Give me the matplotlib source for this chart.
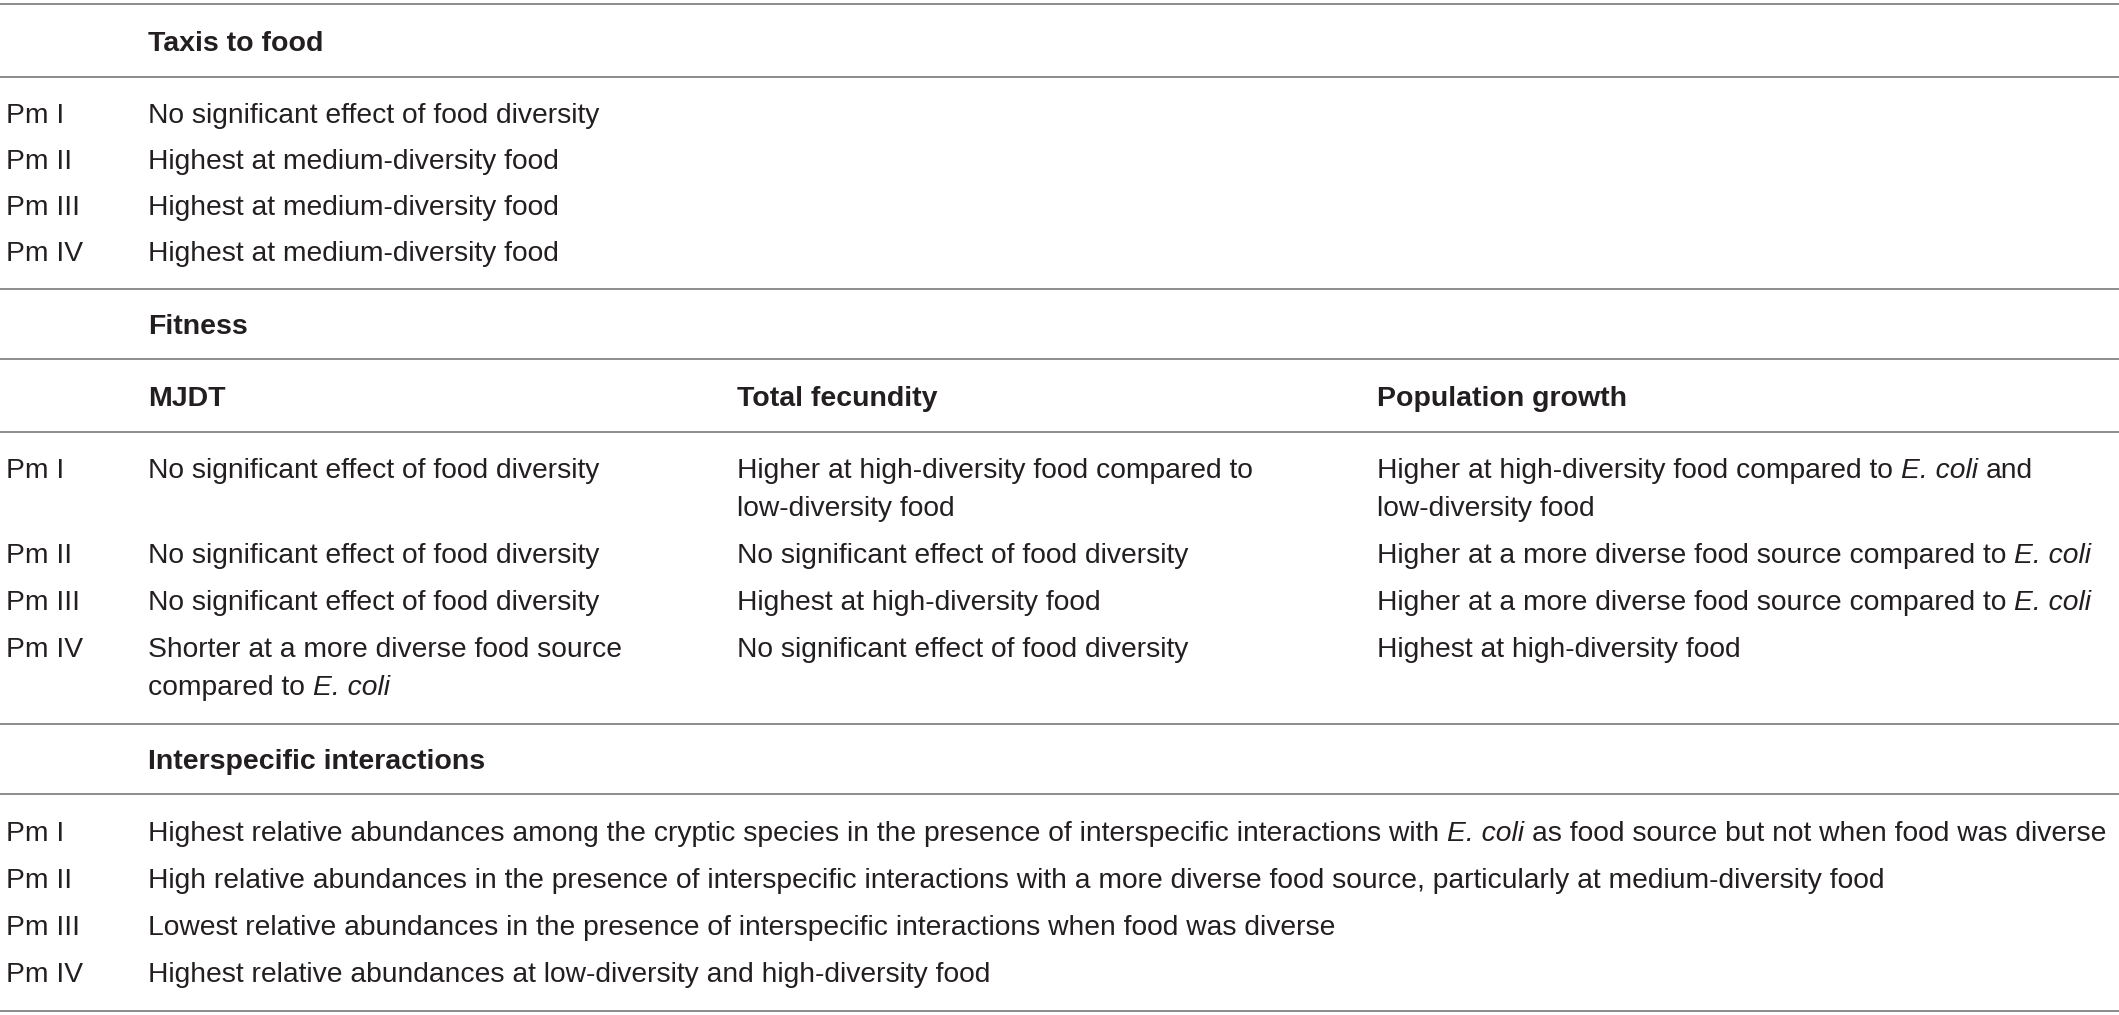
import matplotlib
matplotlib.use("Agg")
import matplotlib.pyplot as plt

plt.rcParams["font.family"] = ["Liberation Sans", "DejaVu Sans"]

# table content; text between * * is set in italics
species = ["Pm I", "Pm II", "Pm III", "Pm IV"]

taxis_title = "Taxis to food"
taxis = ["No significant effect of food diversity",
         "Highest at medium-diversity food",
         "Highest at medium-diversity food",
         "Highest at medium-diversity food"]

fitness_title = "Fitness"
fitness_cols = ["MJDT", "Total fecundity", "Population growth"]
mjdt = [["No significant effect of food diversity"],
        ["No significant effect of food diversity"],
        ["No significant effect of food diversity"],
        ["Shorter at a more diverse food source", "compared to *E. coli*"]]
fecundity = [["Higher at high-diversity food compared to", "low-diversity food"],
             ["No significant effect of food diversity"],
             ["Highest at high-diversity food"],
             ["No significant effect of food diversity"]]
growth = [["Higher at high-diversity food compared to *E. coli* and", "low-diversity food"],
          ["Higher at a more diverse food source compared to *E. coli*"],
          ["Higher at a more diverse food source compared to *E. coli*"],
          ["Highest at high-diversity food"]]

inter_title = "Interspecific interactions"
inter = ["Highest relative abundances among the cryptic species in the presence of interspecific interactions with *E. coli* as food source but not when food was diverse",
         "High relative abundances in the presence of interspecific interactions with a more diverse food source, particularly at medium-diversity food",
         "Lowest relative abundances in the presence of interspecific interactions when food was diverse",
         "Highest relative abundances at low-diversity and high-diversity food"]

W, H = 2119, 1015
fig = plt.figure(figsize=(W / 100, H / 100), dpi=100)
ax = fig.add_axes([0, 0, 1, 1])
ax.set_xlim(0, W)
ax.set_ylim(H, 0)
ax.axis("off")
rend = fig.canvas.get_renderer()

fs = 20.3
fs_bold = 20.5
tc = "#231f20"
x_sp, x_c1, x_c2, x_c3 = 6, 148, 737, 1377
row_gap = 47
wrap_gap = 38
half_cap = 10


def width(s, **kw):
    t = ax.text(0, 0, s, fontsize=fs, **kw)
    w = t.get_window_extent(rend).width
    t.remove()
    return w


space_w = width("a a") - width("aa")


def put(x, y, s, bold=False):
    if bold:
        ax.text(x, y + half_cap, s, fontsize=fs_bold, color=tc, va="baseline",
                ha="left", fontweight="bold")
        return
    parts = s.split("*")
    for k, p in enumerate(parts):
        style = "italic" if k % 2 else "normal"
        lead = p.startswith(" ")
        trail = p.endswith(" ")
        p = p.strip()
        if lead:
            x += space_w
        if p:
            t = ax.text(x, y + half_cap, p, fontsize=fs, color=tc, va="baseline",
                        ha="left", fontstyle=style)
            x += t.get_window_extent(rend).width
        if trail:
            x += space_w


def rule(y):
    ax.plot([0, W], [y, y], color="#8c8c8c", lw=1.4, solid_capstyle="butt")


# block 1
rule(4)
put(x_c1, 41, taxis_title, bold=True)
rule(77)
y = 113
for sp, t in zip(species, taxis):
    put(x_sp, y, sp)
    put(x_c1, y, t)
    y += row_gap - 1
rule(289)

# block 2
put(x_c1, 324, fitness_title, bold=True)
rule(359)
for x, c in zip([x_c1, x_c2, x_c3], fitness_cols):
    put(x, 396, c, bold=True)
rule(432)
y = 468
for i, sp in enumerate(species):
    put(x_sp, y, sp)
    n = 1
    for x, col in zip([x_c1, x_c2, x_c3], [mjdt, fecundity, growth]):
        for k, line in enumerate(col[i]):
            put(x, y + k * wrap_gap, line)
        n = max(n, len(col[i]))
    y += row_gap + (n - 1) * wrap_gap
rule(724)

# block 3
put(x_c1, 759, inter_title, bold=True)
rule(794)
y = 831
for sp, t in zip(species, inter):
    put(x_sp, y, sp)
    put(x_c1, y, t)
    y += row_gap
rule(1011)

fig.savefig("out.png", dpi=100)
